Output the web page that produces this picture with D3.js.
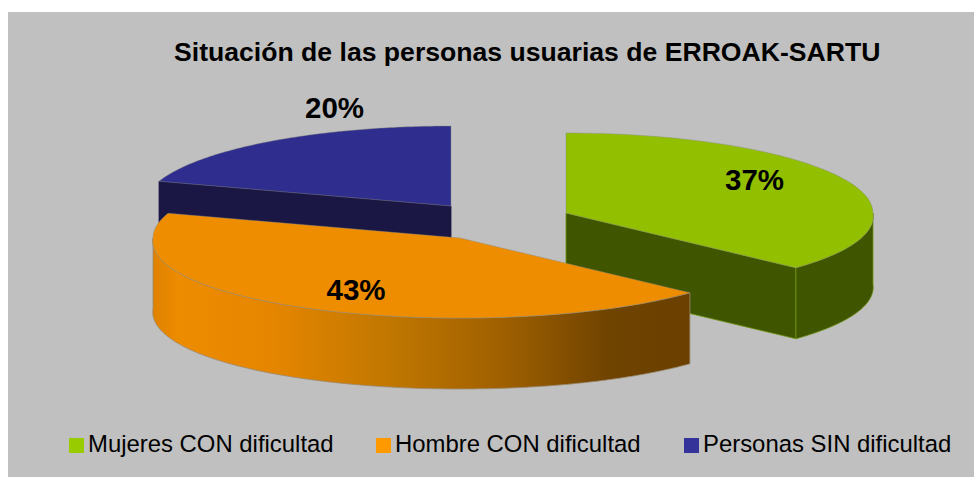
<!DOCTYPE html>
<html><head><meta charset="utf-8">
<script src="https://cdnjs.cloudflare.com/ajax/libs/d3/7.8.5/d3.min.js"></script>
<style>html,body{margin:0;padding:0;background:#fff}svg{display:block}text{font-family:"Liberation Sans",Arial,sans-serif}</style>
</head><body><svg id="c" width="974" height="477"></svg>
<script>
const categories = ["Mujeres CON dificultad", "Hombre CON dificultad", "Personas SIN dificultad"];
const values = [37, 43, 20];
const chartTitle = "Situación de las personas usuarias de ERROAK-SARTU";

// layout and style, separate from the data
const topColors = ["#92c000", "#ef8d00", "#2f2e8f"];
const cutColors = ["#3f5500", "#6b4000", "#1a1745"];
const legendColors = ["#99cc00", "#ff9900", "#333399"];
const apexes = [[566, 213], [460, 238], [451, 206]];
const labelPos = [[754.5, 190], [356, 300], [334.5, 118]];
const legendX = [69, 376, 684];
const rx = 307, ry = 80, depth = 71, persp = 0.0005;

const svg = d3.select("#c");
svg.append("rect").attr("x", 8).attr("y", 12).attr("width", 966).attr("height", 465).attr("fill", "#c0c0c0");

const grad = svg.append("defs").append("linearGradient").attr("id", "rim")
  .attr("gradientUnits", "userSpaceOnUse").attr("x1", 153).attr("x2", 690).attr("y1", 0).attr("y2", 0);
[[0, "#df8200"], [0.05, "#ee8c00"], [0.22, "#e68600"], [0.45, "#bf7600"], [0.65, "#a06000"], [0.85, "#6f4300"], [1, "#6b4000"]]
  .forEach(s => grad.append("stop").attr("offset", s[0]).attr("stop-color", s[1]));

const arcs = d3.pie().sort(null).value(d => d)(values);

function project(apex, a, r = 1, dz = 0) {
  const dy = -ry * r * Math.cos(a);
  return [apex[0] + rx * r * Math.sin(a) * (1 + persp * Math.max(dy, 0)), apex[1] + dy + dz];
}
const line = d3.line();
const angles = (a0, a1) => d3.range(0, 121).map(i => a0 + (a1 - a0) * i / 120);

function drawSlice(i) {
  const d = arcs[i], ap = apexes[i], a0 = d.startAngle, a1 = d.endAngle;
  const g = svg.append("g");
  const quad = (a, fill) => g.append("path")
    .attr("d", line([ap, project(ap, a), project(ap, a, 1, depth), [ap[0], ap[1] + depth]]) + "Z")
    .attr("fill", fill).attr("stroke", i === 0 ? "#6f9410" : fill).attr("stroke-width", 0.8);
  if (Math.cos(a0 - Math.PI / 2) < -1e-6) quad(a0, cutColors[i]);
  if (Math.cos(a1 + Math.PI / 2) < -1e-6) quad(a1, cutColors[i]);
  const f0 = Math.max(a0, Math.PI / 2), f1 = Math.min(a1, 3 * Math.PI / 2);
  if (f1 > f0) {
    const top = angles(f0, f1).map(a => project(ap, a));
    const bot = angles(f1, f0).map(a => project(ap, a, 1, depth));
    g.append("path").attr("d", line(top.concat(bot)) + "Z")
      .attr("fill", i === 1 ? "url(#rim)" : cutColors[i])
      .attr("stroke", i === 0 ? "#6f9410" : "#9a8a70").attr("stroke-width", 0.8);
  }
  const pts = [ap].concat(angles(a0, a1).map(a => project(ap, a)));
  g.append("path").attr("d", line(pts) + "Z").attr("fill", topColors[i])
    .attr("stroke", "#8a8a80").attr("stroke-width", 0.6).attr("stroke-opacity", 0.7);
}
[2, 0, 1].forEach(drawSlice);

svg.append("text").attr("x", 174).attr("y", 60.5).attr("font-size", 26.6).attr("font-weight", "bold").attr("fill", "#000").text(chartTitle);

values.forEach((v, i) => {
  svg.append("text").attr("x", labelPos[i][0]).attr("y", labelPos[i][1]).attr("text-anchor", "middle")
    .attr("font-size", 29.5).attr("font-weight", "bold").attr("fill", "#000").text(v + "%");
});

categories.forEach((c, i) => {
  svg.append("rect").attr("x", legendX[i]).attr("y", 438).attr("width", 15).attr("height", 15).attr("fill", legendColors[i]);
  svg.append("text").attr("x", legendX[i] + 19).attr("y", 452).attr("font-size", 23.9).attr("fill", "#000").text(c);
});
</script></body></html>
